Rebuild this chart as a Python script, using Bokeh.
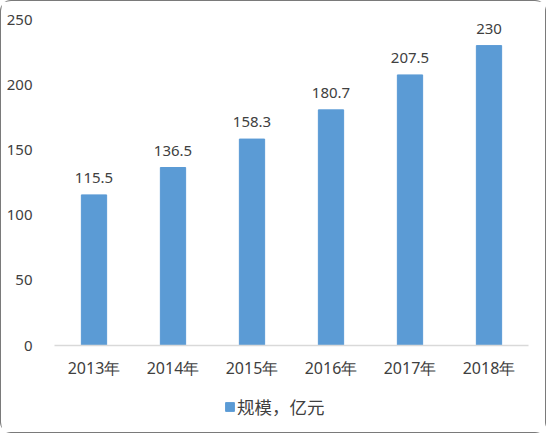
from bokeh.plotting import figure
from bokeh.layouts import column
from bokeh.models import ColumnDataSource, LabelSet, Range1d, FactorRange, Legend, LegendItem
from bokeh.core.properties import value
from bokeh.embed import file_html
from bokeh.resources import INLINE

# data
years = ["2013年", "2014年", "2015年", "2016年", "2017年", "2018年"]
scale = [115.5, 136.5, 158.3, 180.7, 207.5, 230]
series_name = "规模，亿元"
y_ticks = [0, 50, 100, 150, 200, 250]

BAR = "#5B9BD5"
TXT = "#404040"
EDGE = "1.5px solid #7a7a7a"

src = ColumnDataSource(data=dict(
    year=years,
    val=scale,
    txt=[f"{v:g}" for v in scale],
))

p = figure(x_range=FactorRange(*years, range_padding=0), y_range=Range1d(0, 250),
           width=546, height=385, output_backend="svg", toolbar_location=None,
           min_border_left=53, min_border_right=19, min_border_top=18, min_border_bottom=41)
p.styles = {"border": EDGE, "border-bottom": "none", "border-radius": "11px 11px 0 0"}
p.outline_line_color = None
p.grid.grid_line_color = None

p.vbar(x="year", top="val", width=0.32, source=src, color=BAR)

labels = LabelSet(x="year", y="val", text="txt", source=src, text_align="center",
                  text_baseline="alphabetic", y_offset=12, text_font_size="15px",
                  text_color=TXT, text_font=value("Noto Sans"))
p.add_layout(labels)

# y axis
p.yaxis.ticker = y_ticks
p.yaxis.axis_line_color = None
p.yaxis.major_tick_line_color = None
p.yaxis.minor_tick_line_color = None
p.yaxis.major_label_standoff = 16
p.yaxis.major_label_text_font = "Noto Sans"
p.yaxis.major_label_text_font_size = "15px"
p.yaxis.major_label_text_color = TXT

# x axis
p.xaxis.axis_line_color = "#D9D9D9"
p.xaxis.axis_line_width = 1.5
p.xaxis.major_tick_line_color = None
p.xaxis.minor_tick_line_color = None
p.xaxis.major_label_standoff = 5
p.xaxis.major_label_text_font = "Noto Sans"
p.xaxis.major_label_text_font_size = "16px"
p.xaxis.major_label_text_color = TXT

# legend strip under the chart (hidden copy of the bars feeds the swatch)
# its frame gets aligned with the main frame by column(), so x is from ~55px
leg = figure(width=546, height=48, x_range=FactorRange(*years), y_range=Range1d(0, 1),
             output_backend="svg", toolbar_location=None,
             x_axis_location=None, y_axis_location=None,
             min_border_left=0, min_border_right=0, min_border_top=0, min_border_bottom=0)
leg.styles = {"border": EDGE, "border-top": "none", "border-radius": "0 0 11px 11px"}
leg.outline_line_color = None
leg.grid.grid_line_color = None
swatch = leg.vbar(x="year", top="val", width=0.32, source=src, color=BAR, visible=False)

legend = Legend(items=[LegendItem(label=series_name, renderers=[swatch])],
                location=(170, 14), padding=0, margin=0, spacing=0,
                glyph_width=11, glyph_height=11, label_standoff=2, label_height=20,
                label_text_font="Noto Sans CJK SC", label_text_font_size="17.5px",
                label_text_color=TXT, background_fill_alpha=0, border_line_color=None,
                inactive_fill_alpha=0)
leg.add_layout(legend)

layout = column(p, leg, spacing=0)
open("out.html", "w").write(file_html(layout, INLINE))
